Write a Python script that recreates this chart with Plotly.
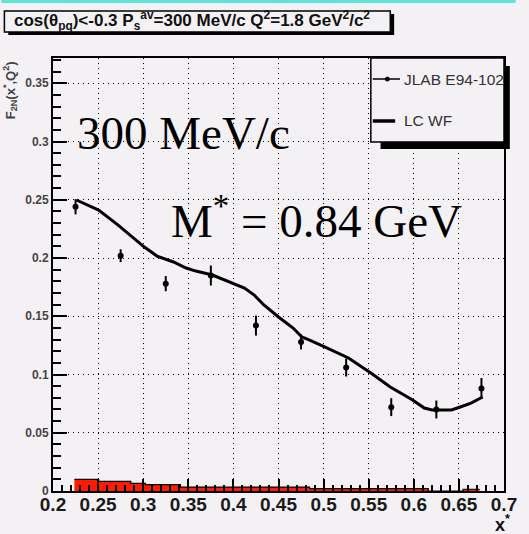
import plotly.graph_objects as go

# JLAB E94-102 measured points
x_data = [0.225, 0.275, 0.325, 0.375, 0.425, 0.475, 0.525, 0.575, 0.625, 0.675]
f2_data = [0.244, 0.202, 0.178, 0.185, 0.142, 0.128, 0.106, 0.072, 0.070, 0.088]
f2_err = [0.0065, 0.0055, 0.0065, 0.0086, 0.0086, 0.0065, 0.0077, 0.0077, 0.0077, 0.009]

# LC WF calculation
x_lc = [0.2259, 0.2506, 0.2722, 0.2830, 0.3013, 0.3153, 0.3261, 0.3336, 0.3476,
        0.3584, 0.3767, 0.3983, 0.4123, 0.4231, 0.4338, 0.4500, 0.4662, 0.4759,
        0.4845, 0.5017, 0.5276, 0.5524, 0.5739, 0.5987, 0.6116, 0.6203, 0.6418,
        0.6515, 0.6634, 0.6763]
f2_lc = [0.2498, 0.2412, 0.2283, 0.2215, 0.2094, 0.2017, 0.1983, 0.1966, 0.1914,
         0.1888, 0.1854, 0.1785, 0.1742, 0.1682, 0.1597, 0.1494, 0.1399, 0.1322,
         0.1296, 0.1236, 0.1142, 0.1013, 0.0893, 0.0781, 0.0712, 0.0695, 0.0695,
         0.0721, 0.0755, 0.0807]

# red histogram along the bottom
hist_edges = [0.2237, 0.2506, 0.2862, 0.3024, 0.3412, 0.4845, 0.6160, 0.6547, 0.6730]
hist_vals = [0.0100, 0.0083, 0.0066, 0.0055, 0.0034, 0.0021, 0.0, 0.0015]

x_ticks = [0.2, 0.25, 0.3, 0.35, 0.4, 0.45, 0.5, 0.55, 0.6, 0.65, 0.7]
x_ticklabels = ["0.2", "0.25", "0.3", "0.35", "0.4", "0.45", "0.5", "0.55", "0.6", "0.65", "0.7"]
y_ticks = [0, 0.05, 0.1, 0.15, 0.2, 0.25, 0.3, 0.35]
y_ticklabels = ["0", "0.05", "0.1", "0.15", "0.2", "0.25", "0.3", "0.35"]

BG = "#f4f1f4"
FIG_W, FIG_H = 529, 534
ML, MR, MT, MB = 53, 12, 58, 43
PW = FIG_W - ML - MR
PH = FIG_H - MT - MB


def px_x(p):
    return (p - ML) / PW


def px_y(p):
    return (FIG_H - MB - p) / PH


fig = go.Figure()

# histogram drawn as a filled step line
fig.add_trace(go.Scatter(
    x=hist_edges, y=hist_vals + [hist_vals[-1]],
    mode="lines", line=dict(shape="hv", color="black", width=1.2),
    fill="tozeroy", fillcolor="#ff1a00", showlegend=False, hoverinfo="skip"))

fig.add_trace(go.Scatter(
    x=x_lc, y=f2_lc, mode="lines",
    line=dict(color="black", width=3), showlegend=False))

fig.add_trace(go.Scatter(
    x=x_data, y=f2_data, mode="markers",
    marker=dict(color="black", size=6, symbol="circle"),
    error_y=dict(type="data", array=f2_err, width=0, thickness=2, color="black"),
    showlegend=False))

grid_dash = "1px,4px"
fig.update_xaxes(
    range=[0.2, 0.7], tickvals=x_ticks, ticktext=x_ticklabels,
    showgrid=True, gridcolor="black", gridwidth=1, griddash=grid_dash,
    showline=True, linecolor="black", linewidth=2, mirror=True,
    ticks="inside", ticklen=12, tickwidth=1.5, tickcolor="black",
    minor=dict(dtick=0.01, ticks="inside", ticklen=6, tickwidth=1.5, tickcolor="black", showgrid=False),
    tickfont=dict(family="Liberation Sans", size=19, color="#1a1a1a", weight="bold"),
    ticklabelstandoff=-5,
    zeroline=False)
fig.update_yaxes(
    range=[0, 0.3717], tickvals=y_ticks, ticktext=y_ticklabels,
    showgrid=True, gridcolor="black", gridwidth=1, griddash=grid_dash,
    showline=True, linecolor="black", linewidth=2, mirror=True,
    ticks="inside", ticklen=14, tickwidth=2, tickcolor="black",
    minor=dict(dtick=0.01, ticks="inside", ticklen=8, tickwidth=2, tickcolor="black", showgrid=False),
    tickfont=dict(family="Liberation Sans", size=12, color="#444444", weight="bold"),
    zeroline=False)

shapes = []
# cyan band along the top edge
shapes.append(dict(type="rect", xref="paper", yref="paper",
                   x0=px_x(0), x1=px_x(FIG_W), y0=px_y(3), y1=px_y(0),
                   fillcolor="#5fe3d9", line=dict(width=0), layer="above"))
# title box with shadow
shapes.append(dict(type="rect", xref="paper", yref="paper",
                   x0=px_x(7), x1=px_x(404), y0=px_y(35), y1=px_y(14),
                   fillcolor="black", line=dict(width=0), layer="above"))
shapes.append(dict(type="rect", xref="paper", yref="paper",
                   x0=px_x(3), x1=px_x(400), y0=px_y(32), y1=px_y(11),
                   fillcolor=BG, line=dict(color="black", width=1.5), layer="above"))
# legend box with shadow
shapes.append(dict(type="rect", xref="paper", yref="paper",
                   x0=px_x(390), x1=px_x(523), y0=px_y(149), y1=px_y(66),
                   fillcolor="black", line=dict(width=0), layer="above"))
shapes.append(dict(type="rect", xref="paper", yref="paper",
                   x0=px_x(380), x1=px_x(517), y0=px_y(142), y1=px_y(58),
                   fillcolor=BG, line=dict(color="black", width=1.5), layer="above"))
# legend symbols
shapes.append(dict(type="line", xref="paper", yref="paper",
                   x0=px_x(382), x1=px_x(410), y0=px_y(79), y1=px_y(79),
                   line=dict(color="black", width=1.5), layer="above"))
shapes.append(dict(type="circle", xref="paper", yref="paper",
                   x0=px_x(394.5), x1=px_x(399.5), y0=px_y(81.5), y1=px_y(76.5),
                   fillcolor="black", line=dict(color="black", width=0), layer="above"))
shapes.append(dict(type="line", xref="paper", yref="paper",
                   x0=px_x(382), x1=px_x(405), y0=px_y(121), y1=px_y(121),
                   line=dict(color="black", width=3.5), layer="above"))

annotations = [
    dict(text="cos(θ<sub>pq</sub>)&lt;-0.3 P<sub>s</sub><sup>av</sup>=300 MeV/c Q<sup>2</sup>=1.8 GeV<sup>2</sup>/c<sup>2</sup>",
         xref="paper", yref="paper", x=px_x(11), y=px_y(21), xanchor="left", yanchor="middle",
         showarrow=False, font=dict(family="Liberation Sans", size=17, color="#111111", weight="bold")),
    dict(text="JLAB E94-102", xref="paper", yref="paper", x=px_x(412), y=px_y(79),
         xanchor="left", yanchor="middle", showarrow=False,
         font=dict(family="Liberation Sans", size=15.5, color="#333333")),
    dict(text="LC WF", xref="paper", yref="paper", x=px_x(412), y=px_y(121),
         xanchor="left", yanchor="middle", showarrow=False,
         font=dict(family="Liberation Sans", size=15.5, color="#333333")),
    dict(text="F<sub>2N</sub>(x<sup>*</sup>,Q<sup>2</sup>)", xref="paper", yref="paper",
         x=px_x(9), y=px_y(90), xanchor="center", yanchor="middle", textangle=-90,
         showarrow=False, font=dict(family="Liberation Sans", size=13, color="#444444", weight="bold")),
    dict(text="x<sup>*</sup>", xref="paper", yref="paper", x=px_x(506), y=px_y(523),
         xanchor="left", yanchor="middle", showarrow=False,
         font=dict(family="Liberation Sans", size=18, color="#111111", weight="bold")),
    dict(text="300 MeV/c", xref="paper", yref="paper", x=px_x(76), y=px_y(133),
         xanchor="left", yanchor="middle", showarrow=False,
         font=dict(family="Liberation Serif", size=47, color="black")),
    dict(text="M<sup>*</sup> = 0.84 GeV", xref="paper", yref="paper", x=px_x(172), y=px_y(217),
         xanchor="left", yanchor="middle", showarrow=False,
         font=dict(family="Liberation Serif", size=47, color="black")),
]

fig.update_layout(
    width=FIG_W, height=FIG_H,
    margin=dict(l=ML, r=MR, t=MT, b=MB, pad=0),
    paper_bgcolor=BG, plot_bgcolor=BG,
    showlegend=False,
    shapes=shapes, annotations=annotations,
)

fig.write_html("out.html")
